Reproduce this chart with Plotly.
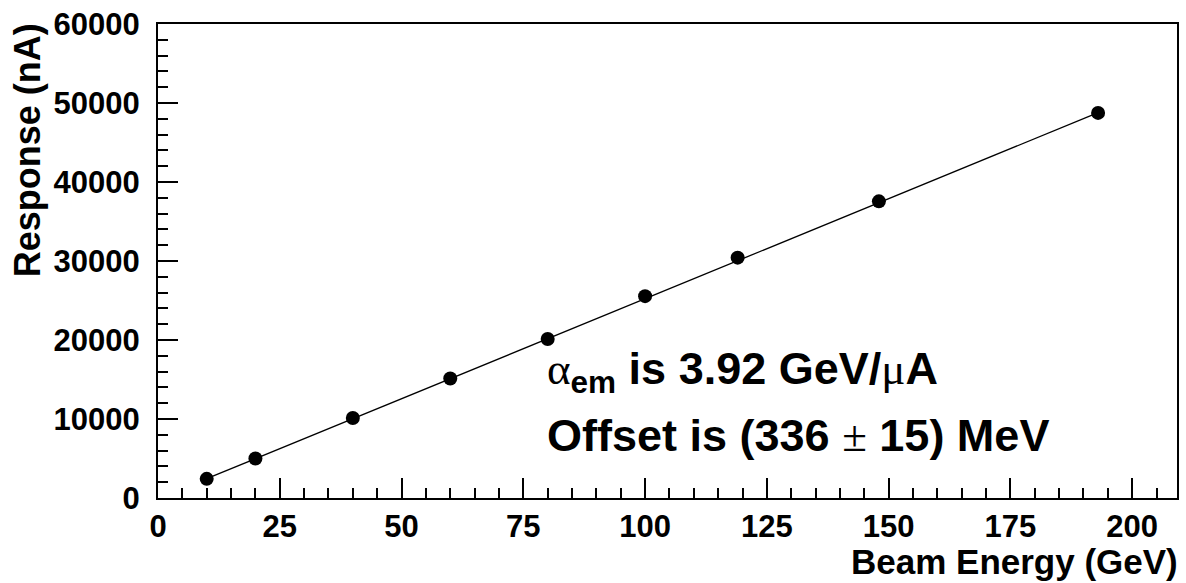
import plotly.graph_objects as go

# Data
beam_energy = [10, 20, 40, 60, 80, 100, 119, 148, 193]
response = [2425, 5000, 10125, 15125, 20125, 25550, 30425, 37550, 48750]

# Fit line end points
fit_x = [10, 192.5]
fit_y = [2440, 48650]

x_title = "Beam Energy (GeV)"
y_title = "Response (nA)"
SERIF = '<span style="font-family:\'Liberation Serif\';font-weight:normal">{}</span>'
line1 = SERIF.format("α") + "<sub>em</sub> is 3.92 GeV/" + SERIF.format("μ") + "A"
line2 = "Offset is (336 " + SERIF.format("±") + " 15) MeV"

FONT = "Liberation Sans"

fig = go.Figure()
fig.add_trace(go.Scatter(x=fit_x, y=fit_y, mode="lines",
                         line=dict(color="black", width=1.3), hoverinfo="skip"))
fig.add_trace(go.Scatter(x=beam_energy, y=response, mode="markers",
                         marker=dict(color="black", size=14)))

axis_common = dict(
    showline=True, linecolor="black", linewidth=2, mirror=True,
    ticks="inside", tickcolor="black", tickwidth=1.5, ticklen=20,
    showgrid=False, zeroline=False, tickformat="d",
    tickfont=dict(family=FONT, size=31, color="black", weight="bold"),
)

fig.update_layout(
    width=1186, height=583,
    margin=dict(l=158, r=7, t=19, b=85),
    paper_bgcolor="white", plot_bgcolor="white",
    showlegend=False,
    font=dict(family=FONT, color="black"),
    xaxis=dict(range=[0, 209.2], tick0=0, dtick=25,
               minor=dict(ticks="inside", dtick=5, ticklen=10, tickwidth=1.5, tickcolor="black"),
               **axis_common),
    yaxis=dict(range=[0, 60000], tick0=0, dtick=10000,
               minor=dict(ticks="inside", dtick=2000, ticklen=10, tickwidth=1.5, tickcolor="black"),
               ticklabelstandoff=10,
               **axis_common),
    annotations=[
        dict(text=x_title, xref="paper", yref="paper", x=(1182 - 158) / 1021, y=(498 - 584) / 479,
             xanchor="right", yanchor="bottom", showarrow=False,
             font=dict(family=FONT, size=35, color="black", weight="bold")),
        dict(text=y_title, xref="paper", yref="paper", x=(27 - 158) / 1021, y=(498 - 16) / 479,
             xanchor="center", yanchor="top", textangle=-90, showarrow=False,
             font=dict(family=FONT, size=36, color="black", weight="bold")),
        dict(text=line1, xref="paper", yref="paper", x=(546 - 158) / 1021, y=(498 - 370) / 479,
             xanchor="left", yanchor="middle", showarrow=False,
             font=dict(family=FONT, size=45, color="black", weight="bold")),
        dict(text=line2, xref="paper", yref="paper", x=(546 - 158) / 1021, y=(498 - 435) / 479,
             xanchor="left", yanchor="middle", showarrow=False,
             font=dict(family=FONT, size=45, color="black", weight="bold")),
    ],
)

fig.write_html("out.html")
